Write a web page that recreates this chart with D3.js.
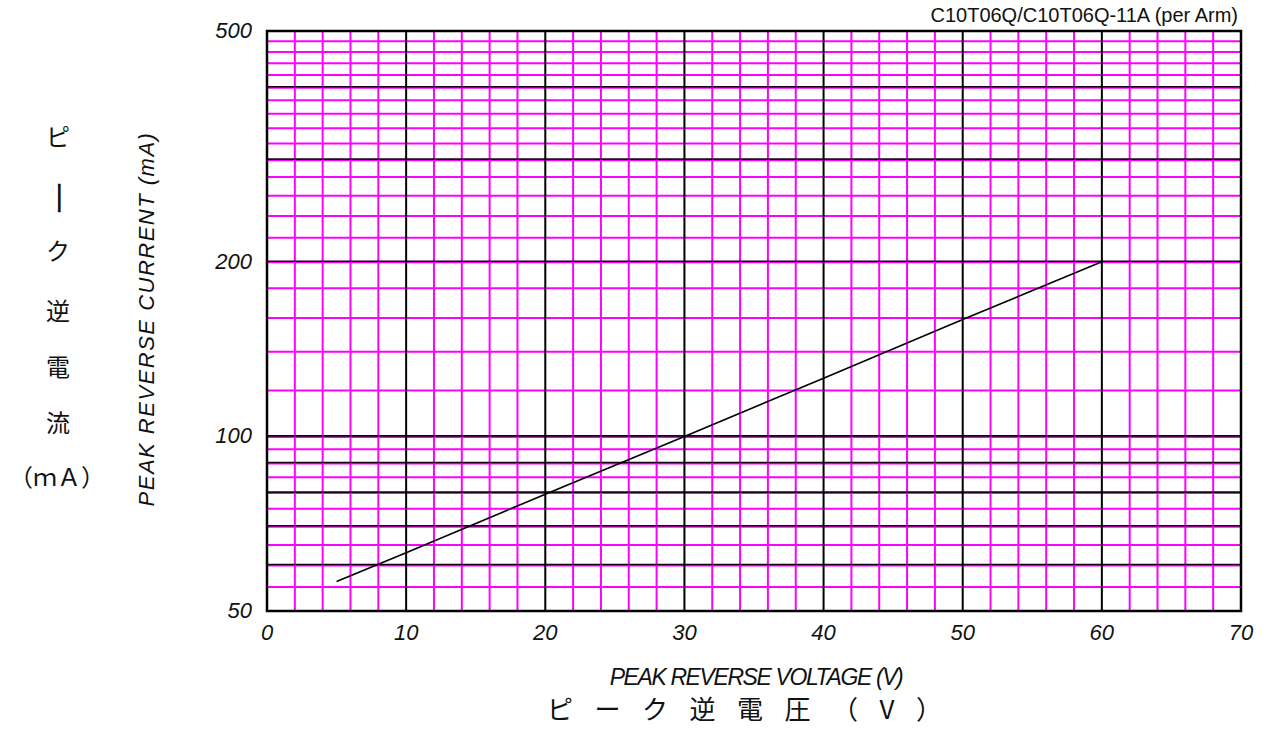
<!DOCTYPE html>
<html>
<head>
<meta charset="utf-8">
<script src="https://cdn.jsdelivr.net/npm/d3@7"></script>
<style>
  html, body { margin: 0; padding: 0; background: #fff; }
  svg { display: block; }
  .tick-label { font-family: "Liberation Sans", Arial, sans-serif; font-style: italic; font-size: 22px; fill: #111; }
  .en-label { font-family: "Liberation Sans", Arial, sans-serif; font-style: italic; fill: #111; }
  .jp-label { font-family: "Noto Sans CJK JP", sans-serif; fill: #111; }
</style>
</head>
<body>
<svg id="chart" width="1268" height="731"></svg>
<script>
// data
const voltages = [5, 10, 20, 30, 40, 50, 60]
const currents = [56.2, 63, 79.5, 100, 126, 159, 200]

const xTicks = [0, 10, 20, 30, 40, 50, 60, 70]
const xMinor = [2, 4, 6, 8, 12, 14, 16, 18, 22, 24, 26, 28, 32, 34, 36, 38, 42, 44, 46, 48, 52, 54, 56, 58, 62, 64, 66, 68]
const yTicks = [50, 100, 200, 500]
const yMajor = [60, 70, 80, 90, 100, 200, 300, 400]
const yMinor = [55, 65, 75, 85, 95, 120, 140, 160, 180, 220, 240, 260, 280, 320, 340, 360, 380, 420, 440, 460, 480]

const chartTitle = "C10T06Q/C10T06Q-11A (per Arm)"
const xLabel = "PEAK REVERSE VOLTAGE (V)"
const xLabelJp = "ピーク逆電圧（V）"
const yLabel = "PEAK REVERSE CURRENT (mA)"
const yLabelJp = ["ピ", "ー", "ク", "逆", "電", "流"]
const yUnitJp = "（ｍＡ）"

const M = { left: 267, top: 31, right: 1241, bottom: 611 }
const svg = d3.select("#chart")

const x = d3.scaleLinear().domain([0, 70]).range([M.left, M.right])
const y = d3.scaleLog().domain([50, 500]).range([M.bottom, M.top])

const grid = svg.append("g")

// magenta minor grid
grid.selectAll(".vmin").data(xMinor).enter().append("line")
  .attr("x1", (d) => x(d)).attr("x2", (d) => x(d))
  .attr("y1", M.top).attr("y2", M.bottom)
  .attr("stroke", "#ff00ff").attr("stroke-width", 2)
grid.selectAll(".hmin").data(yMinor).enter().append("line")
  .attr("x1", M.left).attr("x2", M.right)
  .attr("y1", (d) => y(d)).attr("y2", (d) => y(d))
  .attr("stroke", "#ff00ff").attr("stroke-width", 2)

// dark major grid (dark line with a magenta fringe under it)
grid.selectAll(".hmaj").data(yMajor).enter().append("line")
  .attr("x1", M.left).attr("x2", M.right)
  .attr("y1", (d) => y(d) + 0.5).attr("y2", (d) => y(d) + 0.5)
  .attr("stroke", "#ff00ff").attr("stroke-width", 2)
grid.selectAll(".hmaj2").data(yMajor).enter().append("line")
  .attr("x1", M.left).attr("x2", M.right)
  .attr("y1", (d) => y(d) - 0.5).attr("y2", (d) => y(d) - 0.5)
  .attr("stroke", "#1a0018").attr("stroke-width", 1.6)
grid.selectAll(".vmaj").data(xTicks.slice(1, -1)).enter().append("line")
  .attr("x1", (d) => x(d)).attr("x2", (d) => x(d))
  .attr("y1", M.top).attr("y2", M.bottom)
  .attr("stroke", "#000").attr("stroke-width", 2)

// frame
svg.append("rect")
  .attr("x", M.left).attr("y", M.top)
  .attr("width", M.right - M.left).attr("height", M.bottom - M.top)
  .attr("fill", "none").attr("stroke", "#000").attr("stroke-width", 2.5)

// curve
const line = d3.line().x((d, i) => x(voltages[i])).y((d) => y(d))
svg.append("path").datum(currents)
  .attr("d", line).attr("fill", "none")
  .attr("stroke", "#000").attr("stroke-width", 1.6)

// tick labels
svg.selectAll(".xt").data(xTicks).enter().append("text")
  .attr("class", "tick-label")
  .attr("x", (d) => x(d)).attr("y", M.bottom + 29)
  .attr("text-anchor", "middle").text((d) => d)
svg.selectAll(".yt").data(yTicks).enter().append("text")
  .attr("class", "tick-label")
  .attr("x", M.left - 15).attr("y", (d) => y(d) + 7)
  .attr("text-anchor", "end").text((d) => d)

// title
svg.append("text").attr("class", "en-label")
  .attr("x", 1238).attr("y", 22).attr("text-anchor", "end")
  .style("font-style", "normal").style("font-size", "20px")
  .text(chartTitle)

// x axis labels
svg.append("text").attr("class", "en-label")
  .attr("x", 756).attr("y", 685).attr("text-anchor", "middle")
  .style("font-size", "23px").style("letter-spacing", "-1.4px")
  .text(xLabel)
svg.append("text").attr("class", "jp-label")
  .attr("x", 547).attr("y", 719)
  .style("font-size", "26px").style("letter-spacing", "21.5px")
  .text(xLabelJp)

// y axis labels
svg.append("text").attr("class", "en-label")
  .attr("transform", "translate(154,319) rotate(-90)")
  .attr("text-anchor", "middle")
  .style("font-size", "22px").style("letter-spacing", "1.5px")
  .text(yLabel)

// japanese label stacked vertically; the long vowel mark is turned upright
const jpY = [137, 198, 251, 311, 367, 423]
yLabelJp.forEach((ch, i) => {
  const t = svg.append("text").attr("class", "jp-label")
    .attr("text-anchor", "middle").style("font-size", "24px").text(ch)
  if (ch === "ー") {
    t.attr("transform", `translate(58,${jpY[i]}) rotate(90) scale(1.5,1.2)`)
      .attr("dy", "0.36em")
  } else {
    t.attr("x", 58).attr("y", jpY[i] + 9)
  }
})
svg.append("text").attr("class", "jp-label")
  .attr("x", 57).attr("y", 486).attr("text-anchor", "middle")
  .style("font-size", "24px").text(yUnitJp)
</script>
</body>
</html>
